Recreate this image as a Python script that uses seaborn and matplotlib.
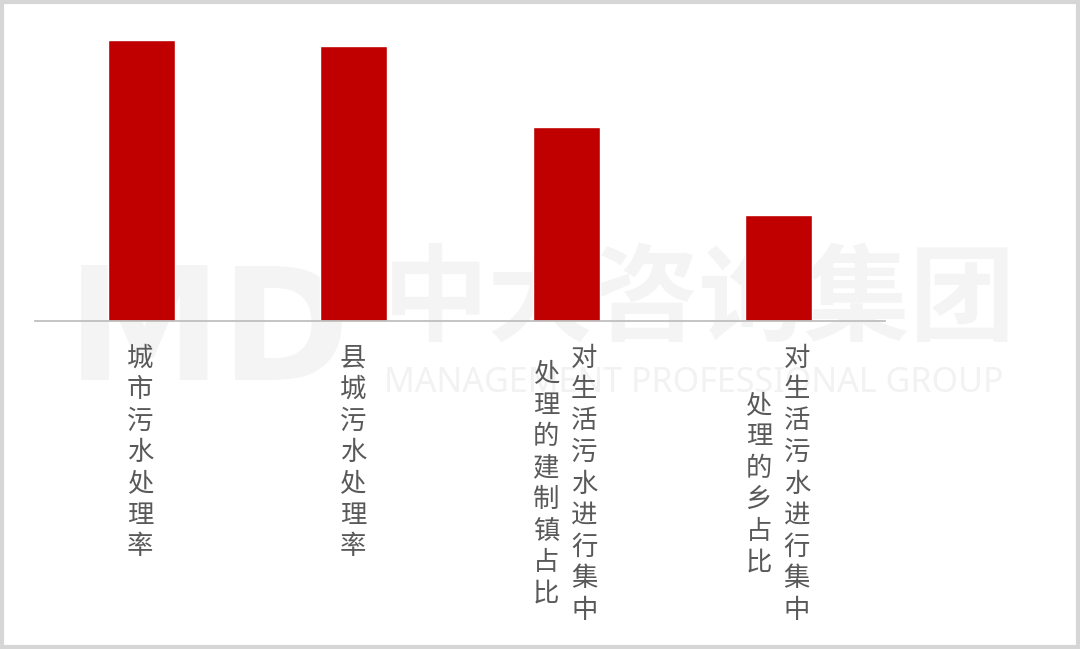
import matplotlib
matplotlib.use("Agg")
import matplotlib.pyplot as plt
import seaborn as sns
import pandas as pd
from matplotlib.patches import Rectangle

# ---- data ----
categories = ["城市污水处理率", "县城污水处理率",
              "对生活污水进行集中处理的建制镇占比",
              "对生活污水进行集中处理的乡占比"]
label_columns = [["城市污水处理率"],
                 ["县城污水处理率"],
                 ["对生活污水进行集中", "处理的建制镇占比"],
                 ["对生活污水进行集中", "处理的乡占比"]]
values = [97.0, 94.9, 67.0, 36.6]

sns.set_theme(style="white")
plt.rcParams["font.family"] = ["Noto Sans CJK SC", "DejaVu Sans"]

fig = plt.figure(figsize=(10.8, 6.49), dpi=100)
fig.patch.set_facecolor("white")

# watermark (behind everything)
wm = "#F4F4F4"
fig.text(0.062, 0.48, "MD", fontsize=112, fontweight="bold", color=wm,
         ha="left", va="center", zorder=-5, family=["DejaVu Sans"])
fig.text(0.354, 0.535, "中大咨询集团", fontsize=76, fontweight="bold",
         color=wm, ha="left", va="center", zorder=-5)
fig.text(0.356, 0.41, "MANAGEMENT PROFESSIONAL GROUP", fontsize=24.5,
         color="#F2F2F2", ha="left", va="center", zorder=-5,
         family=["Noto Sans", "DejaVu Sans"])

ax = fig.add_axes([35 / 1080, 1 - 321 / 649, 850 / 1080, 289.7 / 649])
ax.patch.set_alpha(0)
ax.set_zorder(1)

df = pd.DataFrame({"cat": categories, "val": values})
sns.barplot(data=df, x="cat", y="val", color="#C00000", width=0.316,
            saturation=1, ax=ax, zorder=3)

ax.set_ylim(0, 100)
ax.set_xlim(-0.5, 3.5)
ax.set_xlabel("")
ax.set_ylabel("")
ax.set_yticks([])
ax.set_xticks(range(len(categories)))
ax.set_xticklabels([""] * len(categories))
ax.tick_params(axis="x", length=0)
for s in ["top", "left", "right"]:
    ax.spines[s].set_visible(False)
ax.spines["bottom"].set_color("#BFBFBF")
ax.spines["bottom"].set_linewidth(1.3)
ax.spines["bottom"].set_zorder(4)

# vertical stacked labels (columns read right-to-left)
pitch = 31.5
col_gap = 38
top_gap = 37
for i, cols in enumerate(label_columns):
    n = max(len(c) for c in cols)
    ncols = len(cols)
    for j, col in enumerate(cols):
        dx = ((ncols - 1) / 2 - j) * col_gap - 1
        start = top_gap + (n - len(col)) / 2 * pitch
        for k, ch in enumerate(col):
            ax.annotate(ch, xy=(i, 0), xycoords="data",
                        xytext=(dx, -(start + k * pitch)),
                        textcoords="offset pixels", ha="center", va="center",
                        fontsize=19, fontweight="light", color="#595959",
                        annotation_clip=False)

# outer frame
fig.patches.append(Rectangle((0.0015, 0.0025), 0.997, 0.995,
                             transform=fig.transFigure, fill=False,
                             edgecolor="#D6D6D6", linewidth=3, zorder=10))

fig.savefig("out.png", dpi=100)
